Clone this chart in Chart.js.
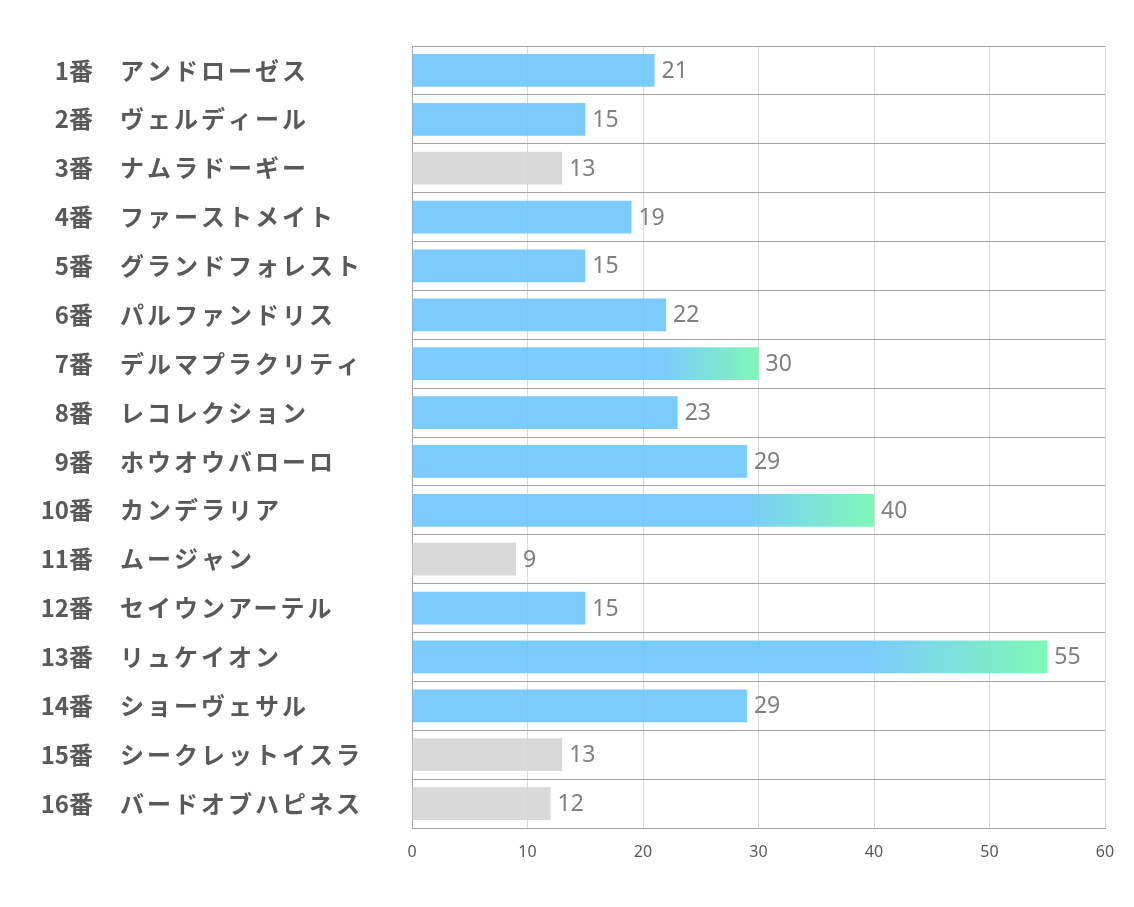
<!DOCTYPE html>
<html lang="ja">
<head>
<meta charset="utf-8">
<script src="https://cdn.jsdelivr.net/npm/chart.js@4"></script>
<style>
  html, body { margin: 0; padding: 0; background: #fff; }
  #wrap { width: 1134px; height: 907px; }
</style>
</head>
<body>
<div id="wrap"><canvas id="grafico"></canvas></div>
<script>
// 馬番と馬名
const umaban = [1, 2, 3, 4, 5, 6, 7, 8, 9, 10, 11, 12, 13, 14, 15, 16];
const bamei = [
    'アンドローゼス', 'ヴェルディール', 'ナムラドーギー', 'ファーストメイト',
    'グランドフォレスト', 'パルファンドリス', 'デルマプラクリティ', 'レコレクション',
    'ホウオウバローロ', 'カンデラリア', 'ムージャン', 'セイウンアーテル',
    'リュケイオン', 'ショーヴェサル', 'シークレットイスラ', 'バードオブハピネス'
];
const valores = [21, 15, 13, 19, 15, 22, 30, 23, 29, 40, 9, 15, 55, 29, 13, 12];
const xTicks = [0, 10, 20, 30, 40, 50, 60];

// 灰色表示の馬 / グラデーション表示の馬
const grayHorses = [3, 11, 15, 16];
const hotHorses = [7, 10, 13];

const AZUL = 'rgba(109,197,253,0.9)';
const VERDE = 'rgba(114,247,176,0.9)';
const CINZA = 'rgba(213,213,213,0.9)';

const labelsPlugin = {
    id: 'rotulos',
    afterDatasetsDraw(chart) {
        const { ctx } = chart;
        const yScale = chart.scales.y;
        const meta = chart.getDatasetMeta(0);
        ctx.save();
        // nomes à esquerda
        ctx.fillStyle = '#595959';
        ctx.textBaseline = 'middle';
        umaban.forEach((n, i) => {
            const y = yScale.getPixelForValue(i);
            ctx.font = 'bold 24px "Noto Sans CJK JP"';
            ctx.textAlign = 'right';
            ctx.letterSpacing = '0px';
            ctx.fillText(n + '番', 93, y);
            ctx.textAlign = 'left';
            ctx.letterSpacing = '3px';
            ctx.fillText(bamei[i], 120, y);
        });
        // valores depois das barras
        ctx.letterSpacing = '0px';
        ctx.font = '23px "Noto Sans"';
        ctx.fillStyle = '#7f7f7f';
        ctx.textAlign = 'left';
        meta.data.forEach((bar, i) => {
            ctx.fillText(String(valores[i]), bar.x + 7, bar.y + 1);
        });
        ctx.restore();
    }
};

function corBarra(context) {
    const i = context.dataIndex;
    const n = umaban[i];
    if (grayHorses.includes(n)) return CINZA;
    if (!hotHorses.includes(n)) return AZUL;
    const chart = context.chart;
    const x = chart.scales.x;
    if (!chart.chartArea || !x) return AZUL;
    const x0 = x.getPixelForValue(0);
    const x1 = x.getPixelForValue(valores[i]);
    const g = chart.ctx.createLinearGradient(x0, 0, x1, 0);
    g.addColorStop(0, AZUL);
    g.addColorStop(0.72, AZUL);
    g.addColorStop(1, VERDE);
    return g;
}

const chart = new Chart(document.getElementById('grafico'), {
    type: 'bar',
    data: {
        labels: bamei,
        datasets: [{
            data: valores,
            backgroundColor: corBarra,
            borderWidth: 0,
            categoryPercentage: 1,
            barPercentage: 0.67
        }]
    },
    options: {
        indexAxis: 'y',
        responsive: true,
        maintainAspectRatio: false,
        animation: false,
        layout: { padding: { top: 46, right: 29, left: 0, bottom: 0 } },
        plugins: { legend: { display: false }, tooltip: { enabled: false } },
        scales: {
            x: {
                min: 0,
                max: 60,
                afterBuildTicks(scale) {
                    scale.ticks = xTicks.map(v => ({ value: v }));
                },
                afterFit(scale) { scale.height = 79; },
                grid: { color: '#d9d9d9', lineWidth: 1, drawTicks: false },
                border: { color: '#a6a6a6', width: 1 },
                ticks: {
                    color: '#595959',
                    padding: 15,
                    font: { family: '"Liberation Sans Narrow", "Noto Sans"', size: 16 }
                }
            },
            y: {
                afterFit(scale) { scale.width = 412; },
                grid: { color: '#a6a6a6', lineWidth: 1, offset: true, drawTicks: false },
                border: { color: '#a6a6a6', width: 1 },
                ticks: { display: false }
            }
        }
    },
    plugins: [labelsPlugin]
});
</script>
</body>
</html>
